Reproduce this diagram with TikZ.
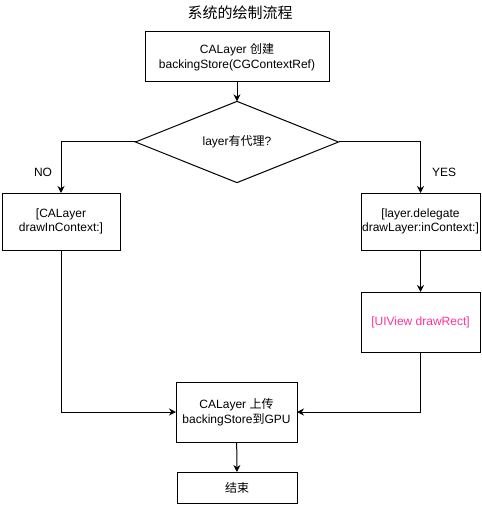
\documentclass[tikz,border=0pt]{standalone}
\usepackage{fontspec}
\setmainfont{Liberation Sans}
\newfontfamily\cjk{Noto Sans CJK SC}
\usetikzlibrary{positioning,shapes.geometric,arrows.meta}
\definecolor{rectpink}{HTML}{FF3399}

\begin{document}
\begin{tikzpicture}[x=1pt,y=-1pt,
    box/.style={draw, line width=1pt, align=center, inner sep=0pt, outer sep=0pt, font=\fontsize{12}{14.5}\selectfont},
    flow/.style={line width=1pt, -{Stealth[length=7pt,width=7pt]}},
    lbl/.style={font=\fontsize{12}{14.5}\selectfont}]
  \useasboundingbox (0,0) rectangle (481,513);
  % title
  \node[font=\cjk\fontsize{15}{18}\selectfont] (title) at (240,13) {系统的绘制流程};
  % boxes
  \node[box, minimum width=184pt, minimum height=50pt] (create) at (237,57) {CALayer {\cjk 创建}\\backingStore(CGContextRef)};
  \node[box, shape=diamond, minimum width=203pt, minimum height=80pt] (dlg) at (237,142) {layer{\cjk 有代理}?};
  \node[box, minimum width=118pt, minimum height=57pt] (nobox) at (61,221.5) {[CALayer\\drawInContext:]};
  \node[box, minimum width=119pt, minimum height=57pt] (yesbox) at (420.5,221.5) {[layer.delegate\\drawLayer:inContext:]};
  \node[box, minimum width=119pt, minimum height=60pt, text=rectpink] (uiview) at (420.5,322) {[UIView drawRect]};
  \node[box, minimum width=121pt, minimum height=60pt] (upload) at (236.5,412) {CALayer {\cjk 上传}\\backingStore{\cjk 到}GPU};
  \node[box, minimum width=120pt, minimum height=31pt] (done) at (237,487.5) {\cjk 结束};
  % labels
  \node[lbl] (nolbl) at (43,172) {NO};
  \node[lbl] (yeslbl) at (444,172) {YES};
  % connectors
  \draw[flow] (create) -- (dlg);
  \draw[flow] (dlg.west) -| (nobox.north);
  \draw[flow] (dlg.east) -| (yesbox.north);
  \draw[flow] (yesbox) -- (uiview);
  \draw[flow] (nobox.south) |- (upload.west);
  \draw[flow] (uiview.south) |- (upload.east);
  \draw[flow] (upload) -- (done);
\end{tikzpicture}
\end{document}
